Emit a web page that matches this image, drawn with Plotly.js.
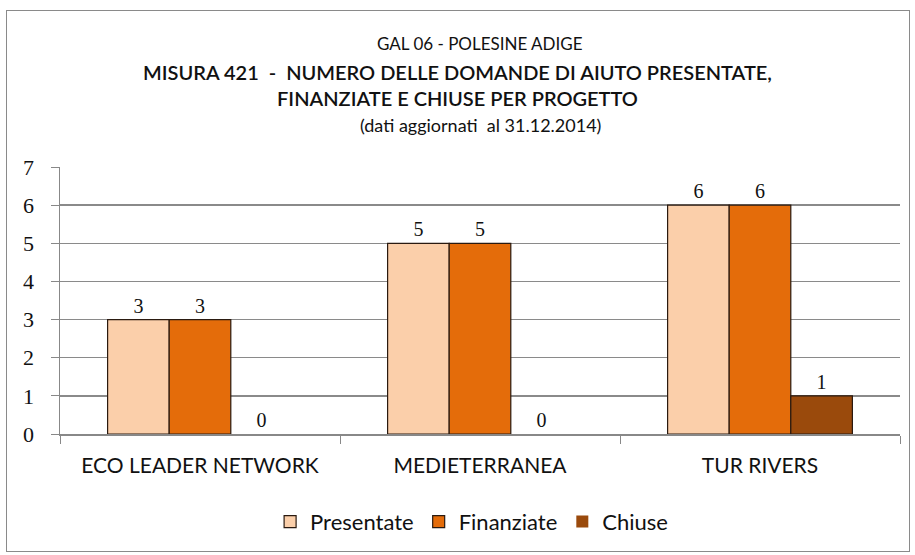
<!DOCTYPE html>
<html lang="it">
<head>
  <meta charset="UTF-8">
  <title>GAL 06 - Misura 421</title>
  <script src="https://cdn.plot.ly/plotly-3.0.1.min.js"></script>
  <style>
    body { margin: 0; background: #ffffff; }
    #frame {
      position: absolute; left: 6px; top: 10px;
      width: 902px; height: 540px;
      border: 1px solid #8a8a8a;
    }
    #chart { position: absolute; left: 0; top: 0; width: 915px; height: 555px; }
  </style>
</head>
<body>
  <div id="frame"></div>
  <div id="chart"></div>
  <script>
    // Dati
    const progetti = ["ECO LEADER NETWORK", "MEDIETERRANEA", "TUR RIVERS"];
    const presentate = [3, 5, 6];
    const finanziate = [3, 5, 6];
    const chiuse = [0, 0, 1];

    const serie = [
      { name: "Presentate", y: presentate, color: "#fbcfaa" },
      { name: "Finanziate", y: finanziate, color: "#e46c0a" },
      { name: "Chiuse", y: chiuse, color: "#9a4a0c" }
    ];

    const sans = "Lato, Open Sans, sans-serif";
    const serif = "Liberation Serif, DejaVu Serif, serif";

    const traces = serie.map(s => ({
      type: "bar",
      name: s.name,
      x: progetti,
      y: s.y,
      text: s.y.map(String),
      textposition: "outside",
      cliponaxis: false,
      textfont: { family: serif, size: 20, color: "#111" },
      // no outline on empty bars
      marker: { color: s.color, line: { color: "#2a1a10", width: s.y.map(v => v > 0 ? 1.2 : 0) } }
    }));

    const layout = {
      width: 915, height: 555,
      margin: { l: 60, r: 15, t: 167, b: 118 },
      paper_bgcolor: "rgba(0,0,0,0)",
      plot_bgcolor: "rgba(0,0,0,0)",
      barmode: "group",
      bargap: 0.34,
      bargroupgap: 0,
      font: { family: sans, color: "#111" },
      title: {
        text: "MISURA 421  -  NUMERO DELLE DOMANDE DI AIUTO PRESENTATE,<br>" +
              "FINANZIATE E CHIUSE PER PROGETTO",
        x: 0.5, xanchor: "center",
        yref: "container", y: 1 - 80 / 555, yanchor: "middle",
        font: { family: sans, size: 20, color: "#111", weight: 600 }
      },
      annotations: [
        {
          text: "GAL 06 - POLESINE ADIGE",
          xref: "paper", yref: "paper", x: 0.5, y: (437 - 42) / 270,
          xanchor: "center", yanchor: "middle", showarrow: false,
          font: { family: sans, size: 17, color: "#111" }
        },
        {
          text: "(dati aggiornati  al 31.12.2014)",
          xref: "paper", yref: "paper", x: 0.5, y: (437 - 125) / 270,
          xanchor: "center", yanchor: "middle", showarrow: false,
          font: { family: sans, size: 18, color: "#111" }
        }
      ],
      xaxis: {
        type: "category",
        showline: true, linecolor: "#888", linewidth: 1.5,
        ticks: "outside", tickson: "boundaries", ticklen: 8, tickcolor: "#888",
        ticklabelstandoff: 12,
        tickfont: { family: sans, size: 21, color: "#111" },
        showgrid: false
      },
      yaxis: {
        range: [0, 7], dtick: 1,
        showline: true, linecolor: "#888", linewidth: 1.5,
        ticks: "outside", ticklen: 8, tickcolor: "#888",
        ticklabelstandoff: 12,
        showgrid: true, gridcolor: "#8a8a8a", gridwidth: 1.5,
        zeroline: false,
        tickfont: { family: serif, size: 22, color: "#111" }
      },
      legend: {
        orientation: "h",
        x: 0.49, xanchor: "center",
        y: -0.25, yanchor: "top",
        font: { family: sans, size: 22, color: "#111" },
        itemwidth: 30
      },
      showlegend: true
    };

    Plotly.newPlot("chart", traces, layout, { displayModeBar: false, staticPlot: true });
  </script>
</body>
</html>
